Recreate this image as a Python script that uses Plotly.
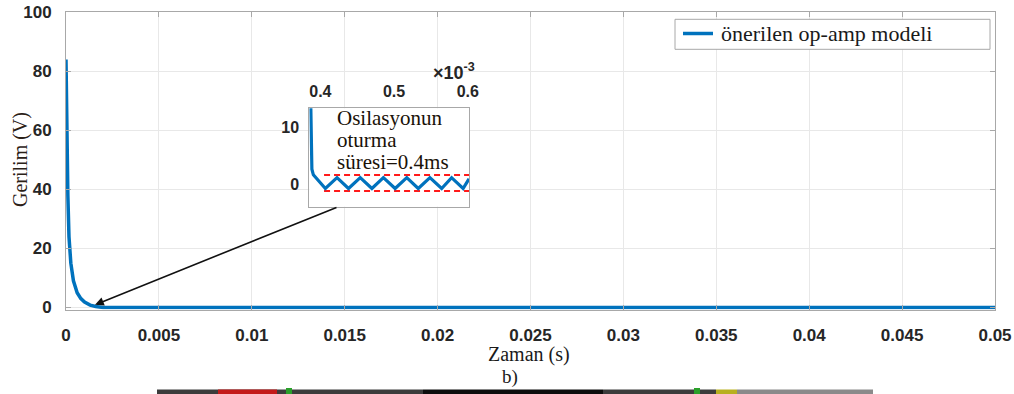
import plotly.graph_objects as go

W, H = 1014, 394

# ---------------- data ----------------
main_t = [0, 0.00005, 0.0001, 0.00016, 0.00026, 0.0004, 0.0006, 0.0008, 0.001,
          0.0013, 0.0016, 0.002, 0.05]
main_v = [84, 55, 38, 24, 15, 9, 5, 3, 1.8, 0.8, 0.3, 0, 0]

inset_t = [0.387, 0.3885, 0.3905, 0.4068, 0.4226, 0.4382, 0.4541, 0.4699, 0.4855,
           0.5014, 0.5172, 0.5328, 0.5486, 0.5645, 0.5780, 0.5936, 0.6016]
inset_v = [14, 2.6, 1.6, -0.8, 1.1, -0.8, 1.1, -0.8, 1.1,
           -0.8, 1.1, -0.8, 1.1, -0.8, 1.1, -0.8, 0.9]

band_t = [0.405, 0.6016]
band_hi = [1.57, 1.57]
band_lo = [-1.22, -1.22]

x_ticks = [0, 0.005, 0.01, 0.015, 0.02, 0.025, 0.03, 0.035, 0.04, 0.045, 0.05]
x_tick_text = ["0", "0.005", "0.01", "0.015", "0.02", "0.025", "0.03", "0.035", "0.04", "0.045", "0.05"]
y_ticks = [0, 20, 40, 60, 80, 100]
inset_x_ticks = [0.4, 0.5, 0.6]
inset_x_text = ["0.4", "0.5", "0.6"]
inset_y_ticks = [0, 10]

series_name = "önerilen op-amp modeli"
BLUE = "#0072BD"
FRAME = "#a8a8a8"
TXT = "#262626"


def px(x):
    return x / W


def py(y):
    return 1 - y / H


fig = go.Figure()
fig.add_trace(go.Scatter(x=main_t, y=main_v, mode="lines", name=series_name,
                         line=dict(color=BLUE, width=3.5), xaxis="x", yaxis="y",
                         showlegend=False))
fig.add_trace(go.Scatter(x=band_t, y=band_hi, mode="lines",
                         line=dict(color="#ff1a1a", width=2, dash="6px,4px"),
                         xaxis="x2", yaxis="y2", showlegend=False))
fig.add_trace(go.Scatter(x=band_t, y=band_lo, mode="lines",
                         line=dict(color="#ff1a1a", width=2, dash="6px,4px"),
                         xaxis="x2", yaxis="y2", showlegend=False))
fig.add_trace(go.Scatter(x=inset_t, y=inset_v, mode="lines",
                         line=dict(color=BLUE, width=3.2), xaxis="x2", yaxis="y2",
                         showlegend=False))

tickfont = dict(family="Liberation Sans, Arial", size=17, color=TXT, weight="bold")
insetfont = dict(family="Liberation Sans, Arial", size=16, color=TXT, weight="bold")

fig.update_layout(
    width=W, height=H,
    margin=dict(l=0, r=0, t=0, b=0, pad=0, autoexpand=False),
    paper_bgcolor="white", plot_bgcolor="white",
    showlegend=False,
    xaxis=dict(domain=[px(66), px(995)], range=[0, 0.05], tickvals=x_ticks,
               ticktext=x_tick_text, showgrid=True, gridcolor="#e8e8e8", gridwidth=1,
               zeroline=False, showline=True, linecolor=FRAME, linewidth=1,
               mirror="ticks", ticks="inside", ticklen=5, tickcolor=FRAME,
               tickfont=tickfont, ticklabelstandoff=10, anchor="y", automargin=False),
    yaxis=dict(domain=[py(309.5), py(12.3)], range=[-0.7, 100], tickvals=y_ticks,
               showgrid=True, gridcolor="#e8e8e8", gridwidth=1,
               zeroline=False, showline=True, linecolor=FRAME, linewidth=1,
               mirror="ticks", ticks="inside", ticklen=5, tickcolor=FRAME,
               tickfont=tickfont, ticklabelstandoff=10, anchor="x", automargin=False),
    xaxis2=dict(domain=[px(309.3), px(469)], range=[0.385, 0.6016], tickvals=inset_x_ticks,
                ticktext=inset_x_text, side="top", showgrid=False, zeroline=False,
                showline=True, linecolor=FRAME, linewidth=1, mirror=True,
                ticks="", tickfont=insetfont, ticklabelstandoff=4, anchor="y2",
                automargin=False),
    yaxis2=dict(domain=[py(206.7), py(108.3)], range=[-4.0, 13.3], tickvals=inset_y_ticks,
                showgrid=False, zeroline=False, showline=True, linecolor=FRAME, linewidth=1,
                mirror=True, ticks="", tickfont=insetfont, ticklabelstandoff=6, anchor="x2",
                automargin=False),
)

annotations = []
# axis titles
annotations.append(dict(x=px(529), y=py(354), xref="paper", yref="paper",
                        text="Zaman (s)", showarrow=False, xanchor="center", yanchor="middle",
                        font=dict(family="Liberation Serif, Times New Roman", size=20, color="#1a1a1a")))
annotations.append(dict(x=px(20), y=py(160), xref="paper", yref="paper",
                        text="Gerilim (V)", showarrow=False, textangle=-90,
                        xanchor="center", yanchor="middle",
                        font=dict(family="Liberation Serif, Times New Roman", size=20, color="#2b2117")))
annotations.append(dict(x=px(510), y=py(377), xref="paper", yref="paper",
                        text="b)", showarrow=False, xanchor="center", yanchor="middle",
                        font=dict(family="Liberation Serif, Times New Roman", size=19, color="#1a1a1a")))
# exponent label of inset
annotations.append(dict(x=px(454), y=py(71), xref="paper", yref="paper",
                        text="×10<sup>-3</sup>", showarrow=False, xanchor="center", yanchor="middle",
                        font=dict(family="Liberation Sans, Arial", size=18, color=TXT, weight="bold")))
# inset text
for txt, yc in [("Osilasyonun", 118), ("oturma", 140), ("süresi=0.4ms", 162)]:
    annotations.append(dict(x=px(335), y=py(yc), xref="paper", yref="paper",
                            text=txt, showarrow=False, xanchor="left", yanchor="middle",
                            font=dict(family="Liberation Serif, Times New Roman", size=21,
                                      color="#1a1208")))
# arrow
annotations.append(dict(x=0.00156, y=0.9, xref="x", yref="y", text="", showarrow=True,
                        ax=243, ay=-98, arrowhead=2, arrowsize=1.1, arrowwidth=1.6,
                        arrowcolor="#111111"))
# legend text
annotations.append(dict(x=px(719), y=py(33.5), xref="paper", yref="paper",
                        text=series_name, showarrow=False, xanchor="left", yanchor="middle",
                        font=dict(family="Liberation Serif, Times New Roman", size=22,
                                  color="#1a1a1a")))

shapes = []
# legend box and sample line
shapes.append(dict(type="rect", xref="paper", yref="paper", x0=px(675), x1=px(990),
                   y0=py(49.3), y1=py(19.3), line=dict(color=FRAME, width=1),
                   fillcolor="white", layer="above"))
shapes.append(dict(type="line", xref="paper", yref="paper", x0=px(683), x1=px(713),
                   y0=py(33.5), y1=py(33.5), line=dict(color=BLUE, width=3.5)))
# bottom strip (cropped image edge)
strip = [(157, 423, "#3c3c3c"), (218, 277, "#c41a1a"), (423, 603, "#0d0d0d"),
         (603, 716, "#3c3c3c"), (716, 737, "#b8b020"), (737, 873, "#8a8a8a")]
for x0, x1, c in strip:
    shapes.append(dict(type="rect", xref="paper", yref="paper", x0=px(x0), x1=px(x1),
                       y0=0, y1=py(389.5), line=dict(width=0), fillcolor=c))
shapes.append(dict(type="rect", xref="paper", yref="paper", x0=px(286), x1=px(292),
                   y0=0, y1=py(388), line=dict(width=0), fillcolor="#2aa02a"))
shapes.append(dict(type="rect", xref="paper", yref="paper", x0=px(694), x1=px(700),
                   y0=0, y1=py(388), line=dict(width=0), fillcolor="#2aa02a"))

fig.update_layout(annotations=annotations, shapes=shapes)
fig.write_html("out.html")
